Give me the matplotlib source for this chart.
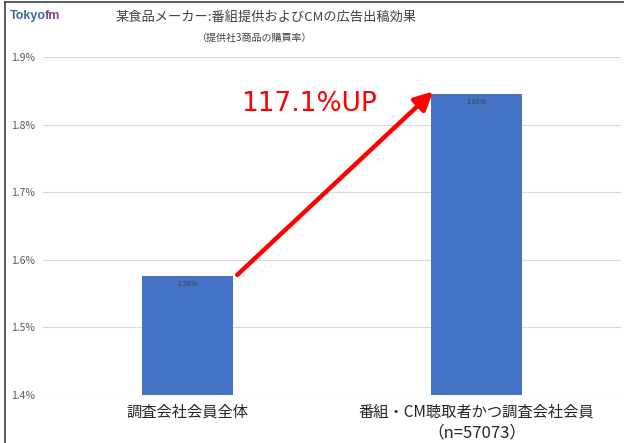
import matplotlib
matplotlib.use('Agg')
import matplotlib.pyplot as plt
import numpy as np

plt.rcParams['font.family'] = ['Noto Sans CJK JP', 'DejaVu Sans']

# data
categories = ['調査会社会員全体', '番組・CM聴取者かつ調査会社会員']
sample_note = '（n=57073）'
rates = [1.576, 1.845]
bar_labels = ['1.58%', '1.85%']
ytick_vals = [1.4, 1.5, 1.6, 1.7, 1.8, 1.9]
uplift_text = '117.1%UP'

fig = plt.figure(figsize=(6.24, 4.43), dpi=100)
ax = fig.add_axes([0.069, 0.1084, 0.926, 0.7629])

x = np.arange(len(categories))
ax.bar(x, rates, width=0.315, color='#4472C4', zorder=3)
for xi, v, lab in zip(x, rates, bar_labels):
    ax.text(xi, v - 0.012, lab, ha='center', va='center', fontsize=5, color='#404040', zorder=4)

ax.set_xlim(-0.5, 1.5)
ax.set_ylim(1.4, 1.9)
ax.set_yticks(ytick_vals)
ax.set_yticklabels(['%.1f%%' % v for v in ytick_vals], fontsize=7.5, color='#595959')
ax.set_xticks(x)
ax.set_xticklabels(categories, fontsize=11, color='#262626')
ax.tick_params(axis='both', length=0)
ax.tick_params(axis='y', pad=6)
ax.tick_params(axis='x', pad=6)
ax.grid(axis='y', color='#D9D9D9', linewidth=0.8, zorder=0)
for s in ax.spines.values():
    s.set_visible(False)

# second line of the right category label
ax.annotate(sample_note, xy=(x[1], 0), xycoords=('data', 'axes fraction'),
            xytext=(0, -27), textcoords='offset points', ha='center', va='center',
            fontsize=12, color='#262626')

# arrow + uplift
ax.annotate('', xy=(0.85, 1.849), xytext=(0.172, 1.5776),
            arrowprops=dict(arrowstyle='-|>,head_length=1.1,head_width=0.55',
                            color='#FF0000', lw=3.2, shrinkA=0, shrinkB=0), zorder=5)
ax.text(0.42, 1.83, uplift_text, fontsize=19, color='#FF0000', ha='center', va='center',
        family=['DejaVu Sans'])

# titles
fig.text(266 / 624, 1 - 17 / 443, '某食品メーカー:番組提供およびCMの広告出稿効果',
         ha='center', va='center', fontsize=9.5, color='#404040')
fig.text(254 / 624, 1 - 38 / 443, '（提供社3商品の購買率）',
         ha='center', va='center', fontsize=7.2, color='#404040')

# logo
t1 = fig.text(10 / 624, 1 - 16 / 443, 'Tokyo', fontsize=9, fontweight='bold', color='#3B6C9C',
              ha='left', va='center', family=['Liberation Sans'])
fig.canvas.draw()
bb = t1.get_window_extent()
fig.text((bb.x1 - 1.5) / 624, 1 - 16 / 443, 'fm', fontsize=9, fontweight='bold', color='#8A3F8F',
         ha='left', va='center', family=['Liberation Sans'])

# frame lines
fig.add_artist(plt.Line2D([0.008, 0.008], [0, 0.996], color='#404040', lw=1.2))
fig.add_artist(plt.Line2D([0.008, 1.0], [0.996, 0.996], color='#404040', lw=1.2))

fig.savefig('out.png', dpi=100)
